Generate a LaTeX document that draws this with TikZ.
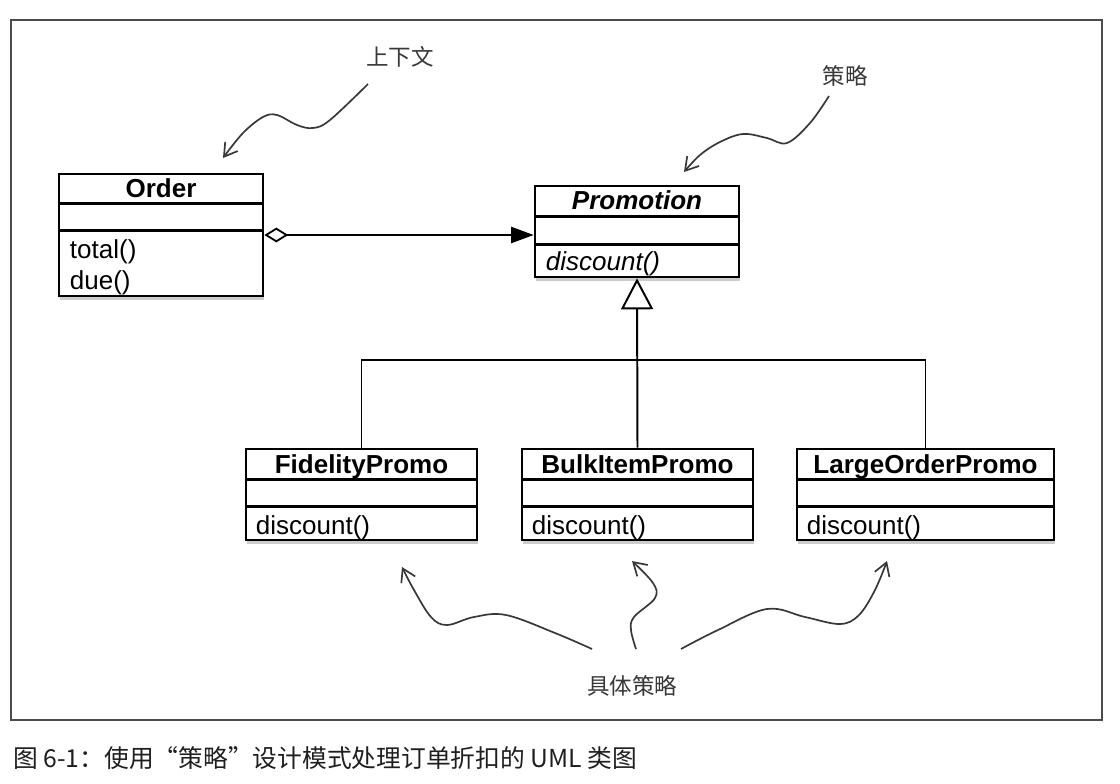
\documentclass[tikz,border=0pt]{standalone}
\usepackage{fontspec}
\setmainfont{Liberation Sans}
\newfontfamily\cjk{Noto Sans CJK SC}
\usetikzlibrary{arrows.meta,positioning,calc,shadows}
\definecolor{framegray}{gray}{0.30}
\definecolor{notegray}{gray}{0.22}
\definecolor{capblack}{gray}{0.12}
\tikzset{
  umlbox/.style={draw,line width=1.9pt,fill=white,inner sep=0pt,
    drop shadow={shadow xshift=0.8pt,shadow yshift=-3pt,opacity=0.4}},
  sepln/.style={line width=1.7pt},
  umlname/.style={font=\fontsize{18.5}{22}\selectfont\bfseries,inner sep=0pt,anchor=base},
  umlop/.style={font=\fontsize{18.5}{22}\selectfont,inner sep=0pt,anchor=base west},
  assoc/.style={line width=1.3pt,
    {Diamond[open,length=17pt,width=10.5pt]}-{Triangle[length=16pt,width=11.5pt]}},
  genln/.style={line width=1.4pt},
  note/.style={notegray,line width=1.2pt,smooth,tension=0.6,
    -{Straight Barb[length=9pt,width=11pt]}},
  notelab/.style={font=\cjk\fontsize{16}{18}\selectfont,text=notegray},
}

\begin{document}
\begin{tikzpicture}[x=0.025cm,y=-0.025cm]
  \fill[white] (0,0) rectangle (1120,784);
  \useasboundingbox (0,0) rectangle (1120,784);
  \draw[framegray,line width=1pt] (11,20) rectangle (1102,720);

  % klassen
  \node[umlbox,minimum width=5.1cm,minimum height=3.05cm] (order) at (161,235) {};
  \node[umlbox,minimum width=5.1cm,minimum height=2.275cm] (promo) at (637,231.5) {};
  \node[umlbox,minimum width=5.775cm,minimum height=2.275cm] (fid) at (361.5,494.5) {};
  \node[umlbox,minimum width=5.775cm,minimum height=2.275cm] (bulk) at (637.5,494.5) {};
  \node[umlbox,minimum width=6.425cm,minimum height=2.275cm] (large) at (925.5,494.5) {};
  \foreach \n/\a/\b in {order/31/58,promo/32/60,fid/32/59,bulk/32/59,large/32/59}{
    \draw[sepln] ($(\n.north west)+(0,\a)$) -- ($(\n.north east)+(0,\a)$);
    \draw[sepln] ($(\n.north west)+(0,\b)$) -- ($(\n.north east)+(0,\b)$);
  }
  \node[umlname] at ($(order.north)+(0,25)$) {Order};
  \node[umlname] at ($(promo.north)+(0,25)$) {\itshape Promotion};
  \node[umlname] at ($(fid.north)+(0,26)$) {FidelityPromo};
  \node[umlname] at ($(bulk.north)+(0,26)$) {BulkItemPromo};
  \node[umlname] at ($(large.north)+(0,26)$) {LargeOrderPromo};
  \node[umlop] at ($(order.south west)+(12,-39)$) {total()};
  \node[umlop] at ($(order.south west)+(12,-8)$) {due()};
  \node[umlop] at ($(promo.south west)+(12,-8)$) {\itshape discount()};
  \foreach \n in {fid,bulk,large}
    \node[umlop] at ($(\n.south west)+(11,-7)$) {discount()};

  % verbindungen
  \draw[assoc] (order.east) -- (order.east -| promo.west);
  \coordinate (bar) at (637,360);
  \draw[genln] (fid.north) -- (fid.north |- bar) -- (large.north |- bar) -- (large.north);
  \draw[genln,-{Triangle[open,length=22pt,width=22.8pt]}] (bulk.north) -- (promo.south);

  % anmerkungen
  \node[notelab] (ctx) at (400,57) {上下文};
  \node[notelab] (strat) at (845,76) {策略};
  \node[notelab] (conc) at (632,686) {具体策略};
  \draw[note] plot coordinates {(368,84) (330,120) (313,128) (297,125) (277,115)
    (263,117) (243,133) (223,158)};
  \draw[note] plot coordinates {(829,96) (810,123) (787,143) (767,138) (743,134)
    (720,142) (700,155) (684,172)};
  \draw[note] plot coordinates {(592,649) (555,633) (506,615) (474,617) (447,625)
    (431,617) (414,590) (402,567)};
  \draw[note] plot coordinates {(636,649) (631,630) (634,617) (655,598) (653,583)
    (632,561)};
  \draw[note] plot coordinates {(681,649) (718,630) (767,609) (805,617) (840,624)
    (859,615) (875,590) (887,561)};

  \node[font=\cjk\fontsize{17.6}{20}\selectfont,text=capblack,anchor=west,inner sep=0pt]
    (cap) at (13,758) {图 6-1：使用“策略”设计模式处理订单折扣的 UML 类图};
\end{tikzpicture}
\end{document}
